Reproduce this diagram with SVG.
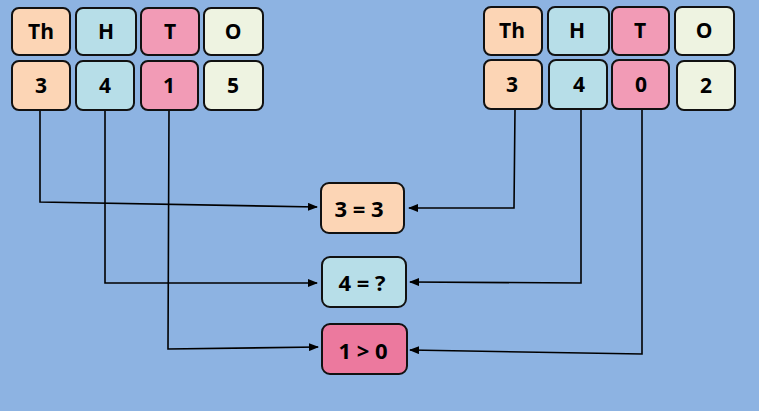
<svg xmlns="http://www.w3.org/2000/svg" width="759" height="411" viewBox="0 0 759 411">
<style>
.b{stroke:#111;stroke-width:2}
.th{fill:#FCD5B5}.h{fill:#B7DEE8}.t{fill:#F29BB6}.o{fill:#EEF3E1}.tp{fill:#EC799E}
text{font-family:"Open Sans","Liberation Sans",sans-serif;font-weight:bold;font-size:21px;fill:#000;text-anchor:middle;dominant-baseline:central}
.big{font-size:22px}
.c{fill:none;stroke:#000;stroke-width:1.6}
</style>
<defs>
<marker id="a" markerWidth="10" markerHeight="8" refX="9" refY="4" orient="auto" markerUnits="userSpaceOnUse">
<path d="M0,0 L10,4 L0,8 Z" fill="#000"/>
</marker>
</defs>
<rect width="759" height="411" fill="#8DB3E2"/>
<g id="connectors">
<path class="c" d="M40,110 V202 L317,207" marker-end="url(#a)"/>
<path class="c" d="M105,110 V283 H317" marker-end="url(#a)"/>
<path class="c" d="M169,110 L168,349 L318,347" marker-end="url(#a)"/>
<path class="c" d="M515,109 L514,208 H409" marker-end="url(#a)"/>
<path class="c" d="M581,109 V283 L410,282" marker-end="url(#a)"/>
<path class="c" d="M642,109 V354 L410,350" marker-end="url(#a)"/>
</g>
<g id="L-Th"><rect class="b th" x="12" y="8" width="58" height="47" rx="7"/><text x="41" y="31">Th</text></g>
<g id="L-H"><rect class="b h" x="76" y="8" width="60" height="47" rx="7"/><text x="106" y="31">H</text></g>
<g id="L-T"><rect class="b t" x="141" y="8" width="58" height="47" rx="7"/><text x="170" y="31">T</text></g>
<g id="L-O"><rect class="b o" x="204" y="8" width="59" height="47" rx="7"/><text x="233" y="31">O</text></g>
<g id="L-3"><rect class="b th" x="12" y="61" width="58" height="49" rx="7"/><text x="41" y="85">3</text></g>
<g id="L-4"><rect class="b h" x="76" y="61" width="58" height="49" rx="7"/><text x="105" y="85">4</text></g>
<g id="L-1"><rect class="b t" x="141" y="61" width="57" height="49" rx="7"/><text x="169" y="85">1</text></g>
<g id="L-5"><rect class="b o" x="204" y="61" width="59" height="49" rx="7"/><text x="233" y="85">5</text></g>
<g id="R-Th"><rect class="b th" x="484" y="7" width="58" height="48" rx="7"/><text x="512" y="30">Th</text></g>
<g id="R-H"><rect class="b h" x="548" y="7" width="61" height="48" rx="7"/><text x="577" y="30">H</text></g>
<g id="R-T"><rect class="b t" x="612" y="7" width="57" height="48" rx="7"/><text x="640" y="30">T</text></g>
<g id="R-O"><rect class="b o" x="675" y="7" width="59" height="48" rx="7"/><text x="704" y="30">O</text></g>
<g id="R-3"><rect class="b th" x="484" y="60" width="58" height="49" rx="7"/><text x="512" y="84">3</text></g>
<g id="R-4"><rect class="b h" x="549" y="60" width="58" height="49" rx="7"/><text x="579" y="84">4</text></g>
<g id="R-0"><rect class="b t" x="612" y="60" width="57" height="49" rx="7"/><text x="641" y="84">0</text></g>
<g id="R-2"><rect class="b o" x="677" y="61" width="58" height="49" rx="7"/><text x="706" y="85">2</text></g>
<g id="cmp-th"><rect class="b th" x="321" y="183" width="83" height="50" rx="8"/><text class="big" x="359" y="208">3 = 3</text></g>
<g id="cmp-h"><rect class="b h" x="322" y="257" width="84" height="50" rx="8"/><text class="big" x="362" y="282">4 = ?</text></g>
<g id="cmp-t"><rect class="b tp" x="322" y="324" width="85" height="50" rx="8"/><text class="big" x="363" y="350">1 &gt; 0</text></g>
</svg>
